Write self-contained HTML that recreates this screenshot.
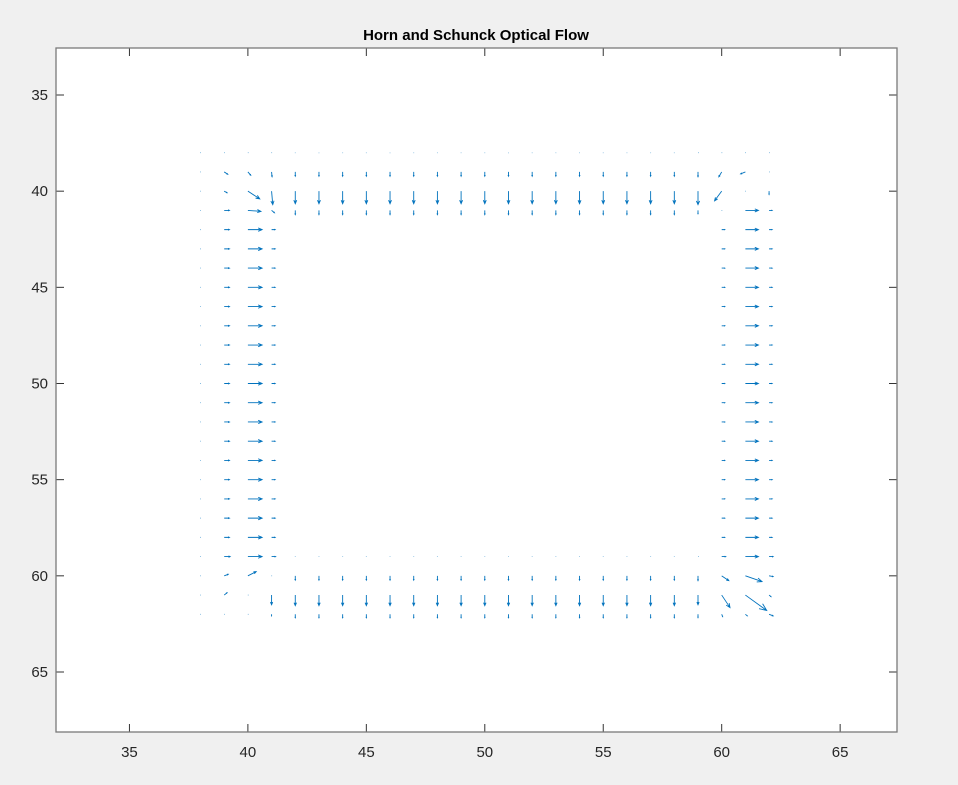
<!DOCTYPE html>
<html><head><meta charset="utf-8"><style>
body{margin:0;background:#f0f0f0;}
svg{display:block;font-family:"Liberation Sans",Arial,sans-serif;}
</style></head><body>
<svg id="chart" width="958" height="785" viewBox="0 0 958 785">
<rect x="0" y="0" width="958" height="785" fill="#f0f0f0"/>
<rect x="56" y="48" width="841" height="684" fill="#fff"/>
<text x="476" y="40" text-anchor="middle" font-size="15" font-weight="bold" fill="#000">Horn and Schunck Optical Flow</text>
<g id="axes"></g>
<g id="arrows"></g>
<rect x="56" y="48" width="841" height="684" fill="none" stroke="#7a7a7a" stroke-width="1.3"/>
</svg>
<script>
const xTicks=[35,40,45,50,55,60,65];
const yTicks=[35,40,45,50,55,60,65];
// band patterns (u or v per position across the band)
const leftBandCols=[38,39,40,41];
const leftBandU=[0.02,0.22,0.6,0.15];
const rightBandCols=[60,61,62];
const rightBandU=[0.13,0.55,0.13];
const topBandRows=[38,39,40,41];
const topBandV=[0.02,0.22,0.65,0.22];
const bottomBandRows=[59,60,61,62];
const bottomBandV=[0.02,0.22,0.55,0.18];
// corner vectors [x,y,u,v]
const cornerVectors=[
[38,38,0.02,0],[39,38,0.02,0],[40,38,0.02,0],[41,38,0.02,0],[59,38,0.02,0],[60,38,0.02,0],[61,38,0.02,0],[62,38,0.02,0],
[38,39,0.02,0],[39,39,0.15,0.12],[40,39,0.12,0.17],[41,39,0.02,0.25],[59,39,0,0.25],[60,39,-0.12,0.25],[61,39,-0.2,0.1],[62,39,0.02,0],
[38,40,0.02,0],[39,40,0.12,0.08],[40,40,0.5,0.4],[41,40,0.05,0.7],[59,40,0,0.7],[60,40,-0.3,0.5],[61,40,0.02,0],[62,40,0,0.17],
[38,41,0.02,0],[39,41,0.22,0],[40,41,0.55,0.05],[41,41,0.12,0.12],[59,41,0,0.17],[60,41,0.02,0],[61,41,0.55,0],[62,41,0.13,0],
[38,59,0.02,0],[39,59,0.25,0],[40,59,0.6,0],[41,59,0.17,0],[59,59,0.02,0],[60,59,0.17,0],[61,59,0.55,0],[62,59,0.17,0],
[38,60,0.02,0],[39,60,0.17,-0.08],[40,60,0.35,-0.22],[41,60,0.02,0],[59,60,0,0.25],[60,60,0.3,0.25],[61,60,0.7,0.3],[62,60,0.17,0.04],
[38,61,0.02,0],[39,61,0.12,-0.12],[40,61,0.02,0],[41,61,0,0.5],[59,61,0,0.5],[60,61,0.35,0.65],[61,61,0.9,0.8],[62,61,0.08,0.08],
[38,62,0.02,0],[39,62,0.02,0],[40,62,0.02,0],[41,62,0,0.08],[59,62,0,0.17],[60,62,0.04,0.12],[61,62,0.08,0.08],[62,62,0.17,0.08]
];
const NS='http://www.w3.org/2000/svg';
const X0=56,X1=897,Y0=48,Y1=732;
const xmin=31.9,xmax=67.4,ymin=32.556,ymax=68.12;
function sx(v){return X0+(v-xmin)/(xmax-xmin)*(X1-X0);}
function sy(v){return Y0+(v-ymin)/(ymax-ymin)*(Y1-Y0);}
function mk(tag,attrs,parent){const e=document.createElementNS(NS,tag);for(const k in attrs)e.setAttribute(k,attrs[k]);parent.appendChild(e);return e;}
const axes=document.getElementById('axes');
xTicks.forEach(t=>{
 const x=sx(t);
 const a=mk('line',{x1:x,y1:Y1,x2:x,y2:Y1-8,stroke:'#333','stroke-width':1},axes);
 
 
 const b=mk('line',{x1:x,y1:Y0,x2:x,y2:Y0+8,stroke:'#333','stroke-width':1},axes);
 
 
 const tx=mk('text',{x:x,y:Y1+25,'text-anchor':'middle','font-size':15,fill:'#262626'},axes);
 tx.textContent=t;
 
 
});
yTicks.forEach(t=>{
 const y=sy(t);
 const a=mk('line',{x1:X0,y1:y,x2:X0+8,y2:y,stroke:'#333','stroke-width':1},axes);
 
 
 const b=mk('line',{x1:X1,y1:y,x2:X1-8,y2:y,stroke:'#333','stroke-width':1},axes);
 
 
 const tx=mk('text',{x:X0-8,y:y+5,'text-anchor':'end','font-size':15,fill:'#262626'},axes);
 tx.textContent=t;
 
 
});
const vecs=[];
for(let y=42;y<=58;y++){
 leftBandCols.forEach((c,i)=>vecs.push([c,y,leftBandU[i],0]));
 rightBandCols.forEach((c,i)=>vecs.push([c,y,rightBandU[i],0]));
}
for(let x=42;x<=58;x++){
 topBandRows.forEach((r,i)=>vecs.push([x,r,0,topBandV[i]]));
 bottomBandRows.forEach((r,i)=>vecs.push([x,r,0,bottomBandV[i]]));
}
cornerVectors.forEach(v=>vecs.push(v));
const g=document.getElementById('arrows');
vecs.forEach(([x,y,u,v])=>{
 const x1=sx(x),y1=sy(y),x2=sx(x+u),y2=sy(y+v);
 const dx=x2-x1,dy=y2-y1,L=Math.hypot(dx,dy);
 let d='M'+x1+','+y1+'L'+x2+','+y2;
 if(L>0.5){
  const h=L*0.3,ang=Math.atan2(dy,dx),a=0.4;
  d+='M'+(x2-h*Math.cos(ang-a))+','+(y2-h*Math.sin(ang-a))+'L'+x2+','+y2+'L'+(x2-h*Math.cos(ang+a))+','+(y2-h*Math.sin(ang+a));
 }
 const p=mk('path',{d:d,stroke:'#0072BD','stroke-width':0.9,fill:'none'},g);
 
 
});
</script>
</body></html>
